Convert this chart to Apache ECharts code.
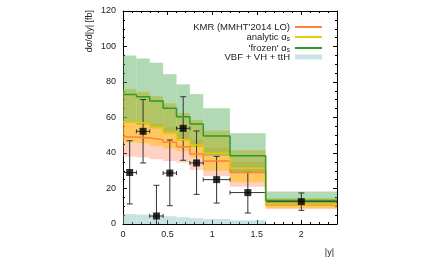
<!DOCTYPE html>
<html><head><meta charset="utf-8">
<script src="https://cdn.jsdelivr.net/npm/echarts@6/dist/echarts.min.js"></script>
<style>html,body{margin:0;padding:0;background:#fff}#c{width:431px;height:258px}</style>
</head><body><div id="c"></div>
<script>
const binEdges = [0, 0.15, 0.3, 0.45, 0.6, 0.75, 0.9, 1.2, 1.6, 2.4];
const frozenCentral = [73, 71.7, 69.3, 65.2, 60.4, 56.3, 49.6, 38.5, 13.3];
const frozenUpper = [95, 93.3, 90.8, 84.4, 78.7, 73.2, 65.2, 51.1, 18.3];
const frozenLower = [57, 56, 54, 51, 47, 43.5, 38.5, 29, 10.5];
const analyticCentral = [57.5, 56.5, 54.5, 51.5, 47.5, 44.5, 39.9, 31.4, 11.2];
const analyticUpper = [76, 74.5, 72, 68, 62.5, 58.5, 52.5, 41.5, 14.5];
const analyticLower = [46, 45.5, 44, 42.5, 41, 37.5, 30, 23.5, 9];
const kmrCentral = [49, 48.5, 47.5, 46, 43.5, 39.5, 35.5, 29, 10.8];
const kmrUpper = [58, 57.5, 56.5, 54.5, 52, 47.5, 43, 35, 13];
const kmrLower = [38, 37.5, 36.5, 35.5, 34.5, 30.5, 27, 21, 8.3];
const vbfEdges = [0, 0.15, 0.3, 0.45, 0.6, 0.75, 0.9, 1.2, 1.6];
const vbfUpper = [5.6, 5.3, 4.8, 4.4, 3.8, 3.3, 2.8, 2.1];
const vbfLower = [0, 0, 0, 0, 0, 0, 0, 0];
const pointX = [0.075, 0.225, 0.375, 0.525, 0.675, 0.825, 1.05, 1.4, 2.0];
const pointY = [29, 52.2, 4.5, 28.7, 53.9, 34.4, 25, 17.7, 12.6];
const pointYLow = [11.3, 34.4, -12.8, 10.3, 35.9, 16.7, 11.8, 6.2, 7.7];
const pointYHigh = [46.9, 70.1, 21.8, 47.3, 71.7, 52.4, 38.1, 29.1, 17.5];
const pointXLow = [0, 0.15, 0.3, 0.45, 0.6, 0.75, 0.9, 1.2, 1.6];
const pointXHigh = [0.15, 0.3, 0.45, 0.6, 0.75, 0.9, 1.2, 1.6, 2.4];
const xTicks = [0, 0.5, 1, 1.5, 2];
const yTicks = [0, 20, 40, 60, 80, 100, 120];

const NAME_KMR = "KMR (MMHT'2014 LO)";
const NAME_AN = "analytic \u03b1s";
const NAME_FR = "'frozen' \u03b1s";
const NAME_VBF = "VBF + VH + ttH";

function bandData(edges, lo, hi) {
  return lo.map((l, i) => [edges[i], edges[i + 1], l, hi[i]]);
}
function stepData(edges, c) {
  const out = [];
  c.forEach((v, i) => { out.push([edges[i], v]); out.push([edges[i + 1], v]); });
  return out;
}
function bandSeries(name, data, color) {
  return {
    type: 'custom', name: name, data: data, color: color, itemStyle: {color: color},
    encode: {x: [0, 1], y: [2, 3]}, clip: true, silent: true,
    renderItem: function (params, api) {
      const p0 = api.coord([api.value(0), api.value(3)]);
      const p1 = api.coord([api.value(1), api.value(2)]);
      return {type: 'rect', shape: {x: p0[0], y: p0[1], width: p1[0] - p0[0], height: p1[1] - p0[1]},
        style: {fill: color}};
    }
  };
}
function lineSeries(name, data, color) {
  return {type: 'line', name: name, data: data, color: color, showSymbol: false, symbol: 'none',
    lineStyle: {color: color, width: 1.5}, itemStyle: {color: color}, silent: true, animation: false};
}

const cGreenBand = 'rgba(70,165,75,0.42)';
const cYellowBand = 'rgba(255,190,0,0.52)';
const cKmrBand = 'rgba(255,120,80,0.34)';
const cVbf = 'rgba(130,185,185,0.42)';
const cGreen = '#2f9a2f';
const cYellow = '#e6cc00';
const cOrange = '#ff8040';

const errData = pointX.map((x, i) => [x, pointY[i], pointXLow[i], pointXHigh[i], pointYLow[i], pointYHigh[i]]);

const fontFam = '"Liberation Sans", Arial, sans-serif';
const axisCommon = {
  type: 'value', axisLine: {show: true, onZero: false, lineStyle: {color: '#000', width: 1}},
  axisTick: {show: true, inside: true, length: 4, lineStyle: {color: '#000'}},
  minorTick: {show: true, length: 2, lineStyle: {color: '#000'}},
  splitLine: {show: false}
};
const chart = echarts.init(document.getElementById('c'), null, {renderer: 'canvas'});
chart.setOption({
  animation: false,
  grid: {left: 123, right: 94, top: 11, bottom: 34},
  xAxis: [
    Object.assign({}, axisCommon, {min: 0, max: 2.4, interval: 0.5, position: 'bottom',
      minorTick: {show: true, splitNumber: 5, length: 2, lineStyle: {color: '#000'}},
      axisLabel: {show: true, margin: 6, color: '#222', fontSize: 9, fontFamily: fontFam, showMaxLabel: false,
        formatter: v => xTicks.indexOf(v) >= 0 ? String(v) : ''},
      name: '|y|', nameLocation: 'end', nameGap: 0,
      nameTextStyle: {align: 'right', verticalAlign: 'top', padding: [24, 3, 0, 0], color: '#222', fontSize: 9, fontFamily: fontFam}}),
    Object.assign({}, axisCommon, {min: 0, max: 2.4, interval: 0.5, position: 'top',
      minorTick: {show: true, splitNumber: 5, length: 2, lineStyle: {color: '#000'}},
      axisLabel: {show: false}})
  ],
  yAxis: [
    Object.assign({}, axisCommon, {min: 0, max: 120, interval: 20, position: 'left',
      minorTick: {show: true, splitNumber: 4, length: 2, lineStyle: {color: '#000'}},
      axisLabel: {show: true, margin: 7, color: '#222', fontSize: 9, fontFamily: fontFam,
        formatter: v => yTicks.indexOf(v) >= 0 ? String(v) : ''}}),
    Object.assign({}, axisCommon, {min: 0, max: 120, interval: 20, position: 'right',
      minorTick: {show: true, splitNumber: 4, length: 2, lineStyle: {color: '#000'}},
      axisLabel: {show: false}})
  ],
  legend: [
    {data: [{name: NAME_KMR}, {name: NAME_AN}, {name: NAME_FR}], orient: 'vertical', align: 'right',
      right: 104, top: 17, itemWidth: 27, itemHeight: 2, itemGap: 0, icon: 'rect',
      selectedMode: false,
      textStyle: {fontSize: 9.5, fontFamily: fontFam, color: '#222', lineHeight: 10,
        rich: {t: {fontSize: 9.5, fontFamily: fontFam, color: '#222'},
               s: {fontSize: 6.5, fontFamily: fontFam, color: '#222', padding: [5, 0, 0, 0]}}},
      formatter: function (n) {
        if (n === NAME_AN) return '{t|analytic \u03b1}{s|s}';
        if (n === NAME_FR) return "{t|'frozen' \u03b1}{s|s}";
        return '{t|' + n + '}';
      }},
    {data: [{name: NAME_VBF}], orient: 'vertical', align: 'right', right: 104, top: 47,
      itemWidth: 27, itemHeight: 5, icon: 'rect', selectedMode: false,
      textStyle: {fontSize: 9.5, fontFamily: fontFam, color: '#222'}}
  ],
  graphic: [{type: 'text', x: 90, y: 10, rotation: Math.PI / 2,
    style: {text: 'd\u03c3/d|y| [fb]', fill: '#222', font: '9px "Liberation Sans", Arial, sans-serif',
      textAlign: 'right', textVerticalAlign: 'middle'}}],
  series: [
    bandSeries(NAME_KMR + ' band', bandData(binEdges, kmrLower, kmrUpper), cKmrBand),
    bandSeries(NAME_AN + ' band', bandData(binEdges, analyticLower, analyticUpper), cYellowBand),
    bandSeries(NAME_FR + ' band', bandData(binEdges, frozenLower, frozenUpper), cGreenBand),
    bandSeries(NAME_VBF, bandData(vbfEdges, vbfLower, vbfUpper), cVbf),
    lineSeries(NAME_KMR, stepData(binEdges, kmrCentral), cOrange),
    lineSeries(NAME_AN, stepData(binEdges, analyticCentral), cYellow),
    lineSeries(NAME_FR, stepData(binEdges, frozenCentral), cGreen),
    {type: 'custom', name: 'err', data: errData, clip: true, silent: true,
      encode: {x: [0, 2, 3], y: [1, 4, 5]},
      renderItem: function (params, api) {
        const x = api.value(0), y = api.value(1);
        const c = api.coord([x, y]);
        const xl = api.coord([api.value(2), y]), xh = api.coord([api.value(3), y]);
        const yl = api.coord([x, api.value(4)]), yh = api.coord([x, api.value(5)]);
        const st = {stroke: '#333', lineWidth: 1};
        const L = (x1, y1, x2, y2) => ({type: 'line', shape: {x1: x1, y1: y1, x2: x2, y2: y2}, style: st});
        return {type: 'group', children: [
          L(c[0], yl[1], c[0], yh[1]),
          L(c[0] - 3, yl[1], c[0] + 3, yl[1]),
          L(c[0] - 3, yh[1], c[0] + 3, yh[1]),
          L(xl[0], c[1], xh[0], c[1]),
          L(xl[0], c[1] - 2, xl[0], c[1] + 2),
          L(xh[0], c[1] - 2, xh[0], c[1] + 2)
        ]};
      }},
    {type: 'scatter', name: 'data', data: pointX.map((x, i) => [x, pointY[i]]), symbol: 'rect',
      symbolSize: 7, itemStyle: {color: '#000'}, silent: true, z: 5}
  ]
});
</script></body></html>
